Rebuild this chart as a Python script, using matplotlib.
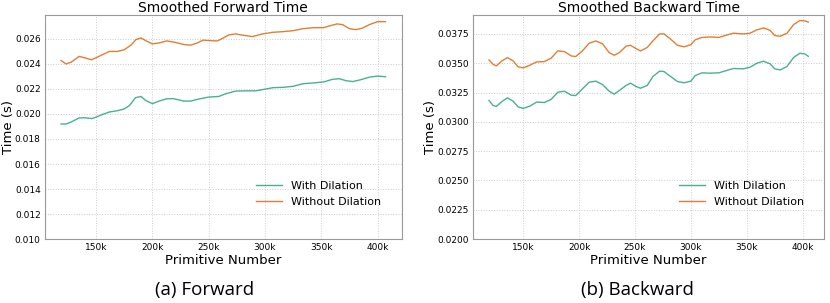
import matplotlib.pyplot as plt
from matplotlib.ticker import MultipleLocator, FuncFormatter, FormatStrFormatter

# Forward time (s) vs primitive number
fwd_x = [119, 123.5, 128, 135, 140, 146, 150, 156, 162, 169, 175, 181, 185.5, 190, 194,
         200, 206, 213, 221, 228, 234, 240, 245, 250, 258, 264, 268, 274, 280, 289, 298,
         307, 316, 325, 334, 343, 352, 357, 364, 369, 375, 381, 386.7, 392.6, 400, 407]
fwd_without = [0.02427, 0.0240, 0.02414, 0.0246, 0.02449, 0.02433, 0.02449, 0.02475, 0.0250,
               0.0250, 0.02513, 0.0255, 0.02595, 0.02608, 0.02587, 0.0256, 0.02568, 0.02584,
               0.02571, 0.02555, 0.0255, 0.02568, 0.0259, 0.02587, 0.02584, 0.02613, 0.02632,
               0.0264, 0.0263, 0.02619, 0.0264, 0.02653, 0.02658, 0.02666, 0.02682, 0.0269,
               0.0269, 0.02703, 0.0272, 0.02714, 0.02682, 0.02674, 0.02687, 0.02714, 0.02738,
               0.02738]
fwd_x2 = [119, 123.5, 128, 135, 140, 146, 150, 156, 162, 169, 175, 180, 185, 190, 194,
          200, 206, 213, 219, 228, 234, 241, 250, 259, 265, 274, 283, 292, 301, 307, 316,
          325, 334, 343, 352, 360, 366, 372, 378, 385, 393, 400, 407]
fwd_with = [0.0192, 0.0192, 0.01936, 0.01968, 0.0197, 0.01963, 0.01974, 0.01997, 0.02016,
            0.02026, 0.0204, 0.02069, 0.0213, 0.0214, 0.02109, 0.02082, 0.02103, 0.02122,
            0.02122, 0.02103, 0.02103, 0.02119, 0.02135, 0.0214, 0.02161, 0.02183, 0.02185,
            0.02185, 0.022, 0.0221, 0.02213, 0.02221, 0.02242, 0.02248, 0.02256, 0.02277,
            0.02282, 0.02266, 0.02259, 0.02274, 0.02295, 0.02303, 0.02298]

# Backward time (s) vs primitive number
bwd_x = [119.5, 123, 126, 131, 136, 141, 145.5, 150, 156, 162, 169, 175, 181, 187, 193,
         197, 203, 209, 215, 221, 227, 231.5, 236, 242, 246, 251, 255, 261, 266, 272, 276,
         282, 288, 294, 300, 304, 310, 317, 325, 332, 338, 347, 353, 359, 365, 371, 375,
         380, 386, 392, 397.5, 402, 405]
bwd_without = [0.03528, 0.03491, 0.03477, 0.0352, 0.03548, 0.0352, 0.03469, 0.0346, 0.03483,
               0.03511, 0.03514, 0.03543, 0.03605, 0.03599, 0.03562, 0.03557, 0.03605, 0.0367,
               0.0369, 0.03665, 0.0359, 0.03568, 0.0359, 0.03645, 0.03653, 0.03625, 0.03605,
               0.03634, 0.0369, 0.0375, 0.0375, 0.03705, 0.03653, 0.0364, 0.03658, 0.037,
               0.0372, 0.03724, 0.0372, 0.0374, 0.03756, 0.0375, 0.03756, 0.03784, 0.03801,
               0.0378, 0.03736, 0.0373, 0.03756, 0.0383, 0.03864, 0.03861, 0.0385]
bwd_with = [0.03182, 0.0314, 0.03131, 0.03173, 0.03205, 0.03176, 0.03128, 0.03114, 0.03134,
            0.03168, 0.03165, 0.03191, 0.03253, 0.03261, 0.03227, 0.03224, 0.03281, 0.03338,
            0.03347, 0.03318, 0.03261, 0.03236, 0.03267, 0.0331, 0.0333, 0.03301, 0.03287,
            0.0331, 0.03386, 0.03432, 0.03429, 0.03386, 0.03344, 0.03333, 0.03347, 0.03395,
            0.03418, 0.03415, 0.03418, 0.03438, 0.03455, 0.03452, 0.03466, 0.035, 0.03517,
            0.03494, 0.03452, 0.03443, 0.03472, 0.0355, 0.03585, 0.03579, 0.03559]

green = '#1b9e77'
orange = '#d95f02'

fig = plt.figure(figsize=(8.3, 3.03), dpi=100)
ax1 = fig.add_axes([0.054, 0.211, 0.430, 0.739])
ax2 = fig.add_axes([0.570, 0.211, 0.423, 0.739])

def style(ax, title, ylo, yhi, ystep, yfmt):
    ax.set_title(title, fontsize=10, pad=1)
    ax.set_xlabel("Primitive Number", fontsize=9.5, labelpad=1)
    ax.set_ylabel("Time (s)", fontsize=9.5, labelpad=0)
    ax.set_ylim(ylo, yhi)
    ax.yaxis.set_major_locator(MultipleLocator(ystep))
    ax.yaxis.set_major_formatter(FormatStrFormatter(yfmt))
    ax.xaxis.set_major_locator(MultipleLocator(50000))
    ax.xaxis.set_major_formatter(FuncFormatter(lambda v, p: f"{int(round(v / 1000))}k"))
    ax.tick_params(labelsize=6.5, length=0, pad=3)
    ax.grid(True, linestyle=':', color='#cccccc', linewidth=0.7)
    for s in ax.spines.values():
        s.set_color('#999999')
    ax.legend(loc='lower right', bbox_to_anchor=(0.97, 0.10), frameon=False,
              fontsize=8, handlelength=2.3, labelspacing=0.5)

ax1.plot([v * 1000 for v in fwd_x2], fwd_with, color=green, alpha=0.8, lw=1.0, label="With Dilation")
ax1.plot([v * 1000 for v in fwd_x], fwd_without, color=orange, alpha=0.8, lw=1.0, label="Without Dilation")
style(ax1, "Smoothed Forward Time", 0.010, 0.0279, 0.002, '%.3f')

ax2.plot([v * 1000 for v in bwd_x], bwd_with, color=green, alpha=0.8, lw=1.0, label="With Dilation")
ax2.plot([v * 1000 for v in bwd_x], bwd_without, color=orange, alpha=0.8, lw=1.0, label="Without Dilation")
style(ax2, "Smoothed Backward Time", 0.020, 0.0391, 0.0025, '%.4f')

fig.text(205 / 830, 1 - 290 / 303, "(a) Forward", fontsize=13.5, ha='center', va='center',
         family='Open Sans')
fig.text(637 / 830, 1 - 290 / 303, "(b) Backward", fontsize=13.5, ha='center', va='center',
         family='Open Sans')

fig.savefig("out.png", dpi=100)
